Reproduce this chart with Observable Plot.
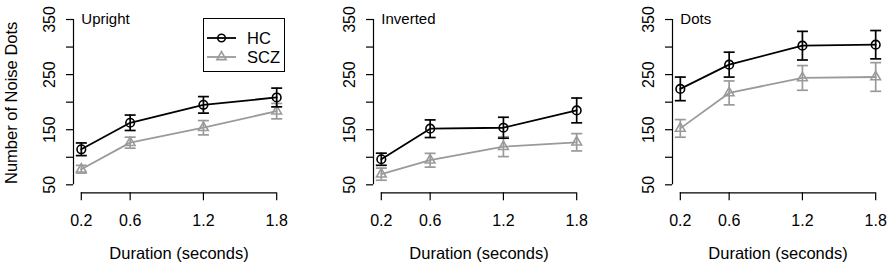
<!DOCTYPE html>
<html><head><meta charset="utf-8">
<script src="https://cdn.jsdelivr.net/npm/d3@7"></script>
<script src="https://cdn.jsdelivr.net/npm/@observablehq/plot@0.6"></script>
<style>
body{margin:0;background:#fff}
#wrap{position:relative;width:892px;height:269px;font-family:"Liberation Sans",Arial,Helvetica,sans-serif;color:#000}
.pan{position:absolute;top:0}
#legend{position:absolute;left:203px;top:18px;width:82px;height:54px;border:1px solid #000;background:#fff;box-sizing:border-box}
</style>
</head><body><div id="wrap"></div>
<script>
// ---- data ----
const durations = [0.2, 0.6, 1.2, 1.8];
const panels = ["Upright", "Inverted", "Dots"];
const groups = ["HC", "SCZ"];
const yTicks = [50, 100, 150, 200, 250, 300, 350];
const yTickLabels = [50, 150, 250, 350];

const uprightHC    = [114.5, 162.6, 195.1, 208.5];
const uprightHCse  = [11.5, 14, 15, 17];
const uprightSCZ   = [78.3, 126.5, 153.6, 183.7];
const uprightSCZse = [7, 10, 13, 14];

const invertedHC    = [96.4, 151.8, 153.6, 185.0];
const invertedHCse  = [11, 16, 19, 22.5];
const invertedSCZ   = [69.3, 94.6, 119.2, 127.2];
const invertedSCZse = [11, 12.5, 18, 15.7];

const dotsHC    = [224.1, 268.1, 302.5, 304.3];
const dotsHCse  = [21.4, 22.6, 26, 25.7];
const dotsSCZ   = [152.4, 216.8, 244.0, 245.7];
const dotsSCZse = [16, 21.7, 22.4, 26];

const colors = ["#000000", "#9a9a9a"];
const FONT = '"Liberation Sans", Arial, Helvetica, sans-serif';

const capSymbol = {draw(ctx, size) { const r = Math.sqrt(size / Math.PI); ctx.moveTo(-r, 0); ctx.lineTo(r, 0); }};

function rowsFor(vals, ses, group) {
  return durations.map((x, i) => ({x, v: vals[i], lo: vals[i] - ses[i], hi: vals[i] + ses[i], group}));
}

function makePanel(name, hc, hcSe, scz, sczSe, first) {
  const hcRows = rowsFor(hc, hcSe, "HC");
  const sczRows = rowsFor(scz, sczSe, "SCZ");
  const xDomain = [0.136, 1.864];
  const yDomain = [35.5, 362];
  const layer = (rows, c, sym, r) => [
    Plot.ruleX(rows, {x: "x", y1: "lo", y2: "hi", stroke: c, strokeWidth: 1.7}),
    Plot.dot(rows, {x: "x", y: "lo", symbol: capSymbol, r: 5.5, stroke: c, fill: "none", strokeWidth: 1.7}),
    Plot.dot(rows, {x: "x", y: "hi", symbol: capSymbol, r: 5.5, stroke: c, fill: "none", strokeWidth: 1.7}),
    Plot.line(rows, {x: "x", y: "v", stroke: c, strokeWidth: 1.8}),
    Plot.dot(rows, {x: "x", y: "v", symbol: sym, r, stroke: c, fill: "none", strokeWidth: 1.6})
  ];
  const marks = [
    Plot.ruleX([xDomain[0]], {y1: yTicks[0], y2: yTicks[yTicks.length - 1], stroke: "#000", strokeWidth: 1.2}),
    Plot.ruleY([yDomain[0]], {x1: durations[0], x2: durations[durations.length - 1], stroke: "#000", strokeWidth: 1.2}),
    Plot.axisY(yTicks, {anchor: "left", tickSize: 7, tickFormat: () => "", label: null, strokeWidth: 1.2}),
    Plot.text(yTickLabels, {y: d => d, frameAnchor: "left", textAnchor: "middle", dx: -24, rotate: -90, text: d => String(d), fontSize: 16}),
    Plot.axisX(durations, {anchor: "bottom", tickSize: 8, tickPadding: 14, tickFormat: d => d.toFixed(1), label: null, fontSize: 16, strokeWidth: 1.2}),
    Plot.text(["Duration (seconds)"], {frameAnchor: "bottom", textAnchor: "middle", dy: 66, fontSize: 16.5}),
    Plot.text([name], {x: durations[0], y: yTicks[yTicks.length - 1], textAnchor: "start", fontSize: 15}),
    ...layer(sczRows, colors[1], "triangle", 3.6),
    ...layer(hcRows, colors[0], "circle", 4.3)
  ];
  if (first) marks.push(Plot.text(["Number of Noise Dots"], {frameAnchor: "left", textAnchor: "middle", dx: -62, rotate: -90, fontSize: 16.5}));
  return Plot.plot({
    width: 293, height: 269,
    marginLeft: 73, marginRight: 9, marginTop: 12.4, marginBottom: 76.7,
    x: {domain: xDomain, axis: null},
    y: {domain: yDomain, axis: null},
    style: {fontFamily: FONT, fontSize: "16px", color: "#000", background: "transparent", overflow: "visible"},
    marks
  });
}

const wrap = document.getElementById("wrap");
const series = [
  [uprightHC, uprightHCse, uprightSCZ, uprightSCZse],
  [invertedHC, invertedHCse, invertedSCZ, invertedSCZse],
  [dotsHC, dotsHCse, dotsSCZ, dotsSCZse]
];
const offsets = [0, 300, 599];
panels.forEach((name, i) => {
  const d = document.createElement("div");
  d.className = "pan";
  d.style.left = offsets[i] + "px";
  d.appendChild(makePanel(name, ...series[i], i === 0));
  wrap.appendChild(d);
});

// legend
const lg = document.createElement("div");
lg.id = "legend";
const ns = "http://www.w3.org/2000/svg";
const svg = document.createElementNS(ns, "svg");
svg.setAttribute("width", 82); svg.setAttribute("height", 54);
svg.style.overflow = "visible";
groups.forEach((g, i) => {
  const y = 19 + i * 19;
  const c = colors[i];
  const ln = document.createElementNS(ns, "line");
  ln.setAttribute("x1", 3); ln.setAttribute("x2", 32); ln.setAttribute("y1", y); ln.setAttribute("y2", y);
  ln.setAttribute("stroke", c); ln.setAttribute("stroke-width", 1.8);
  svg.appendChild(ln);
  const sym = document.createElementNS(ns, "path");
  sym.setAttribute("d", d3.symbol(i === 0 ? d3.symbolCircle : d3.symbolTriangle, Math.PI * (i === 0 ? 3.8 : 3.4) ** 2)());
  sym.setAttribute("transform", `translate(17.5,${y})`);
  sym.setAttribute("fill", "none"); sym.setAttribute("stroke", c); sym.setAttribute("stroke-width", 1.6);
  svg.appendChild(sym);
  const t = document.createElementNS(ns, "text");
  t.setAttribute("x", 43); t.setAttribute("y", y); t.setAttribute("dy", "0.35em");
  t.setAttribute("font-size", 16.5); t.setAttribute("font-family", FONT);
  t.textContent = g;
  svg.appendChild(t);
});
lg.appendChild(svg);
wrap.appendChild(lg);
</script>
</body></html>
